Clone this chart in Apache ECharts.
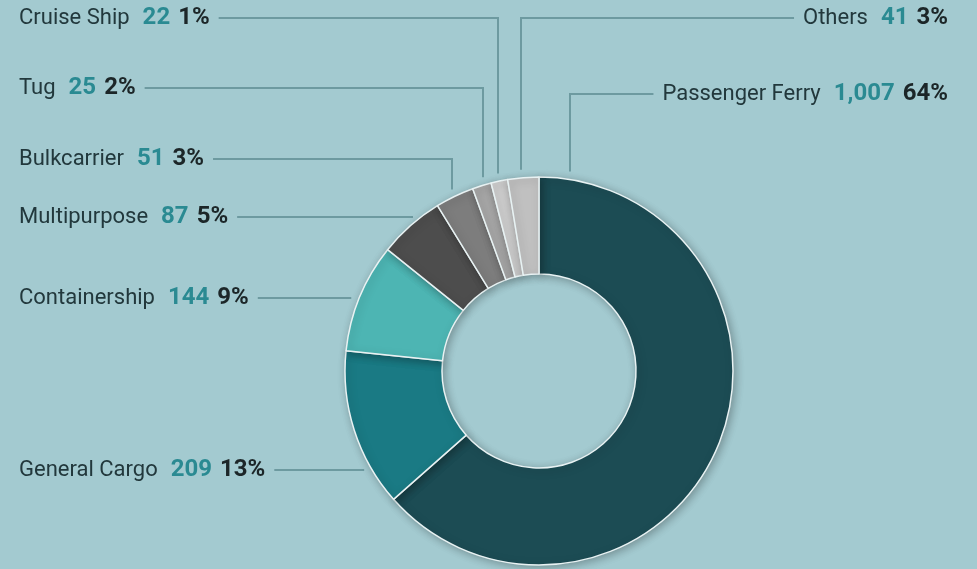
<!DOCTYPE html>
<html><head><meta charset="utf-8">
<script src="https://cdn.jsdelivr.net/npm/echarts@6/dist/echarts.min.js"></script>
<style>html,body{margin:0;padding:0;background:#a3cad0;overflow:hidden}#c{width:977px;height:569px}</style>
</head><body><div id="c"></div>
<script>
// ---- data ----
const categories = ['Passenger Ferry','General Cargo','Containership','Multipurpose','Bulkcarrier','Tug','Cruise Ship','Others'];
const counts = [1007, 209, 144, 87, 51, 25, 22, 41];
const colors = ['#1c4c54','#1a7a84','#4db5b3','#4d4d4d','#7d7d7d','#a6a6a6','#cdcdcd','#c0c0c0'];

// ---- layout (not data) ----
const CX = 539, CY = 371, R_OUT = 194, R_IN = 97;
const labelCfg = [
  {side:'right', y:94,  elbowX:570},
  {side:'left',  y:470},
  {side:'left',  y:298},
  {side:'left',  y:217},
  {side:'left',  y:159, elbowX:452},
  {side:'left',  y:88,  elbowX:483},
  {side:'left',  y:18,  elbowX:498},
  {side:'right', y:18,  elbowX:521}
];
const LEFT_X = 19, RIGHT_X = 948, GAP = 8, LG = 9, FS = 22, FSB = 24;

const chart = echarts.init(document.getElementById('c'), null, {renderer:'canvas'});
chart.setOption({
  backgroundColor: '#a3cad0',
  animation: false,
  textStyle: {fontFamily: 'Roboto'},
  series: [{
    type: 'pie',
    center: [CX, CY],
    radius: [R_IN, R_OUT],
    startAngle: 90,
    clockwise: true,
    avoidLabelOverlap: false,
    percentPrecision: 0,
    itemStyle: {
      borderColor: '#e8f2f3', borderWidth: 1.5,
      shadowBlur: 8, shadowColor: 'rgba(0,0,0,0.28)', shadowOffsetX: 2, shadowOffsetY: 2
    },
    data: categories.map((n, i) => ({name: n, value: counts[i], itemStyle: {color: colors[i]}})),
    label: {
      show: true,
      position: 'outside',
      fontFamily: 'Roboto',
      fontSize: FS,
      color: '#22383c',
      formatter: p => '{n|' + p.name + '}{v|' + echarts.format.addCommas(p.value) + '}{p|' + p.percent + '%}',
      rich: {
        n: {fontFamily:'Roboto', fontSize: FS, color: '#22383c'},
        v: {fontFamily:'Roboto', fontSize: FSB, fontWeight: 'bold', color: '#2a8a92', padding: [0, 0, 0, 13]},
        p: {fontFamily:'Roboto', fontSize: FSB, fontWeight: 'bold', color: '#1c2628', padding: [0, 0, 0, 8]}
      }
    },
    labelLine: {show: true, lineStyle: {color: '#6d9aa0', width: 2}},
    labelLayout: function (p) {
      const c = labelCfg[p.dataIndex];
      const w = p.labelRect.width;
      let x, startX;
      if (c.side === 'left') { x = LEFT_X; startX = LEFT_X + w + LG; }
      else { x = RIGHT_X - w; startX = RIGHT_X - w - LG; }
      let pts;
      if (c.elbowX != null) {
        const dx = c.elbowX - CX;
        const ey = CY - Math.sqrt(R_OUT * R_OUT - dx * dx) - GAP;
        pts = [[c.elbowX, ey], [c.elbowX, c.y], [startX, c.y]];
      } else {
        const dy = c.y - CY;
        const ex = CX - Math.sqrt(R_OUT * R_OUT - dy * dy) - GAP;
        pts = [[ex, c.y], [startX, c.y]];
      }
      return {x: x, y: c.y, align: 'left', verticalAlign: 'middle', labelLinePoints: pts};
    }
  }]
});
</script>
</body></html>
